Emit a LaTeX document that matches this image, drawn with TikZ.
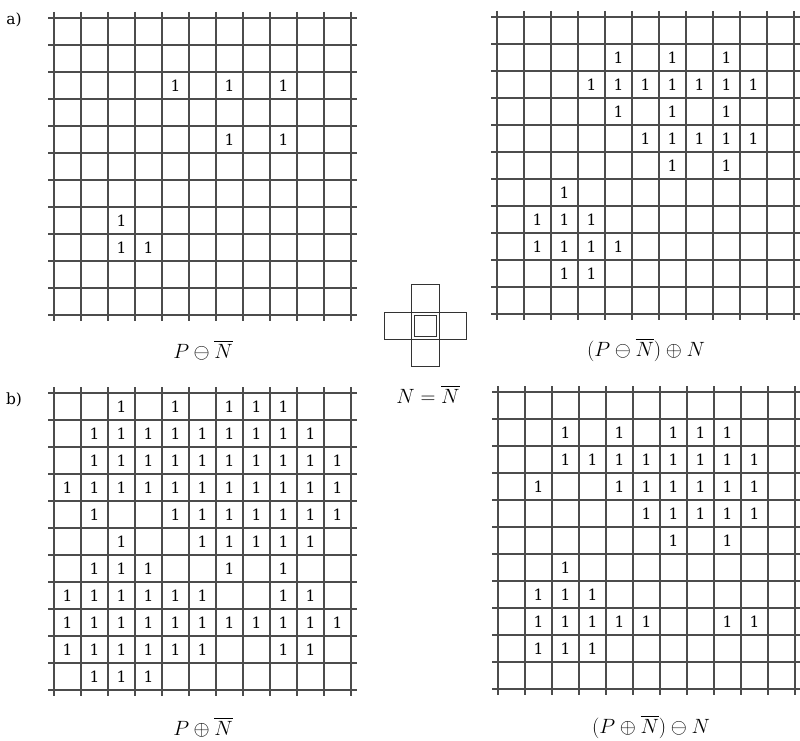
\documentclass[tikz,border=0pt]{standalone}
\usepackage{amsmath}
\usepackage{fontspec}
\newfontfamily\digitfont{DejaVu Serif}
\begin{document}
\begin{tikzpicture}[x=1bp,y=-1bp,
  gridline/.style={line width=2bp,black!70},
  one/.style={inner sep=0pt,font=\digitfont\fontsize{15.5}{16}\selectfont},
  lbl/.style={inner sep=0pt,font=\fontsize{19.5}{21}\selectfont},
  tag/.style={inner sep=0pt,font=\digitfont\fontsize{15.5}{16}\selectfont},
  crossbox/.style={line width=1bp,black!80}]
\useasboundingbox (0,0) rectangle (800,741);
\def\cs{27}
% grid macro
\newcommand{\mygrid}[4]{%
  \begin{scope}[shift={(#2,#3)}]
    \foreach \k in {0,...,11} {
      \draw[gridline] (-6,\k*\cs) -- (11*\cs+6,\k*\cs);
      \draw[gridline] (\k*\cs,-6) -- (\k*\cs,11*\cs+6);
    }
    \foreach \r/\cols in {#4} {
      \foreach \c in \cols {
        \node[one] (#1-\r-\c) at ({(\c+0.5)*\cs},{(\r+0.5)*\cs}) {1};
      }
    }
  \end{scope}}
% a) left: erosion
\mygrid{ero}{54}{18}{2/{4,6,8},4/{6,8},7/{2},8/{2,3}}
% a) right: opening
\mygrid{opn}{497}{17}{1/{4,6,8},2/{3,4,5,6,7,8,9},3/{4,6,8},4/{5,6,7,8,9},5/{6,8},6/{2},7/{1,2,3},8/{1,2,3,4},9/{2,3}}
% b) left: dilation
\mygrid{dil}{54}{393}{0/{2,4,6,7,8},1/{1,2,3,4,5,6,7,8,9},2/{1,2,3,4,5,6,7,8,9,10},3/{0,1,2,3,4,5,6,7,8,9,10},4/{1,4,5,6,7,8,9,10},5/{2,5,6,7,8,9},6/{1,2,3,6,8},7/{0,1,2,3,4,5,8,9},8/{0,1,2,3,4,5,6,7,8,9,10},9/{0,1,2,3,4,5,8,9},10/{1,2,3}}
% b) right: closing
\mygrid{cls}{498}{392}{1/{2,4,6,7,8},2/{2,3,4,5,6,7,8,9},3/{1,4,5,6,7,8,9},4/{5,6,7,8,9},5/{6,8},6/{2},7/{1,2,3},8/{1,2,3,4,5,8,9},9/{1,2,3}}
% labels
\node[tag] (taga) at (14,20) {a)};
\node[tag] (tagb) at (14,400) {b)};
\node[lbl] (lero) at (203,350) {$P\ominus\overline{N}$};
\node[lbl] (lopn) at (646,350) {$(P\ominus\overline{N})\oplus N$};
\node[lbl] (ldil) at (203,727) {$P\oplus\overline{N}$};
\node[lbl] (lcls) at (651,727) {$(P\oplus\overline{N})\ominus N$};
% structuring element
\draw[crossbox] (411.5,284.5) rectangle (439.5,366.5);
\draw[crossbox] (384.5,312.5) rectangle (466.5,339.5);
\draw[crossbox] (414.5,315.5) rectangle (436.5,336.5);
\node[lbl] (lN) at (428,394) {$N=\overline{N}$};
\end{tikzpicture}
\end{document}
